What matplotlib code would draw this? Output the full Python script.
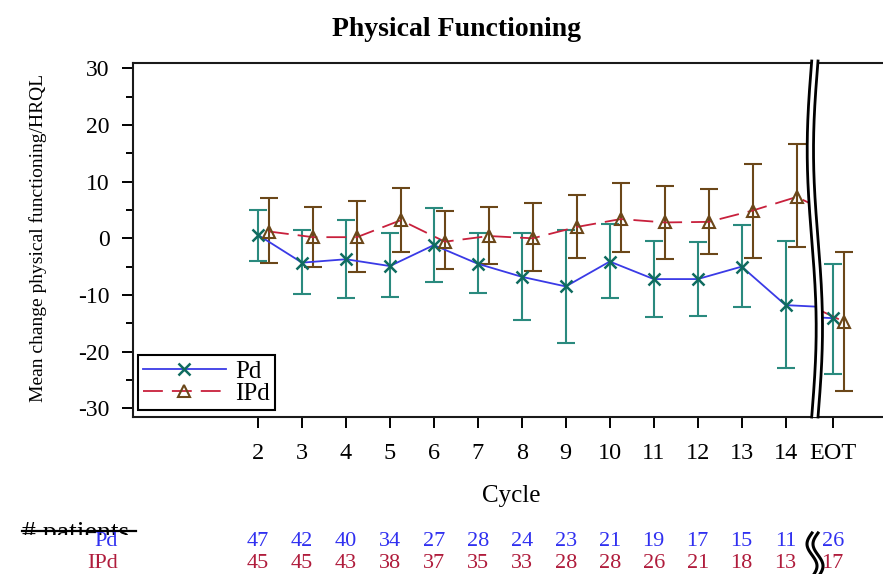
import matplotlib
matplotlib.use("Agg")
import matplotlib.pyplot as plt
import numpy as np
from matplotlib.lines import Line2D
from matplotlib.patches import Polygon
from matplotlib.ticker import MultipleLocator
from matplotlib.transforms import blended_transform_factory, Bbox

# ---- data -------------------------------------------------------------
cycles = ["2", "3", "4", "5", "6", "7", "8", "9", "10", "11", "12", "13", "14", "EOT"]

pd_mean = [0.6, -4.3, -3.7, -4.9, -1.2, -4.5, -6.8, -8.5, -4.1, -7.2, -7.2, -5.0, -11.8, -14.1]
pd_upper = [5.0, 1.5, 3.2, 0.9, 5.4, 1.0, 1.0, 1.5, 2.6, -0.4, -0.7, 2.3, -0.4, -4.5]
pd_lower = [-4.0, -9.9, -10.6, -10.4, -7.7, -9.7, -14.5, -18.5, -10.5, -13.9, -13.7, -12.2, -22.9, -23.9]

ipd_mean = [1.2, 0.2, 0.2, 3.2, -0.6, 0.4, 0.0, 2.0, 3.4, 2.8, 2.9, 4.9, 7.3, -14.7]
ipd_upper = [7.1, 5.6, 6.5, 8.9, 4.9, 5.5, 6.2, 7.6, 9.7, 9.3, 8.7, 13.2, 16.6, -2.4]
ipd_lower = [-4.4, -5.0, -6.0, -2.5, -5.5, -4.5, -5.7, -3.4, -2.4, -3.6, -2.7, -3.4, -1.6, -27.0]

pd_n = [47, 42, 40, 34, 27, 28, 24, 23, 21, 19, 17, 15, 11, 26]
ipd_n = [45, 45, 43, 38, 37, 35, 33, 28, 28, 26, 21, 18, 13, 17]

# ---- style --------------------------------------------------------------
PD_LINE = "#3a3ae6"
PD_MARK = "#0f6b5f"
PD_ERR = "#2a8a7e"
IPD_LINE = "#c8203c"
IPD_MARK = "#6b4719"
PD_TXT = "#3030f0"
IPD_TXT = "#b01c3c"
IPD_DASH = (0, (11, 5))

plt.rcParams["font.family"] = ["Liberation Serif", "DejaVu Serif"]
plt.rcParams["axes.unicode_minus"] = False

W, H = 883, 574
fig = plt.figure(figsize=(W / 100, H / 100), dpi=100)


def fx(x):
    return x / W


def fy(y):
    return 1 - y / H


# layout in pixels
AX_L, AX_T, AX_B = 133, 63.3, 416.7
SPLIT = 815
AX_R = 905
UNIT = 43.97          # pixels per cycle
X2_PX = 258           # pixel position of cycle 2
EOT_PX = 832.7
EOT_POS = 20.0        # EOT sits past the axis break on the continuous scale
IPD_SHIFT = 0.25      # side-by-side offset of the IPd series

pos = np.array(list(range(2, 15)) + [EOT_POS], dtype=float)

ax1 = fig.add_axes([fx(AX_L), fy(AX_B), (SPLIT - AX_L) / W, (AX_B - AX_T) / H])
ax2 = fig.add_axes([fx(SPLIT), fy(AX_B), (AX_R - SPLIT) / W, (AX_B - AX_T) / H])

ax1.set_xlim(2 - (X2_PX - AX_L) / UNIT, 2 + (SPLIT - X2_PX) / UNIT)
ax2.set_xlim(EOT_POS - (EOT_PX - SPLIT) / UNIT, EOT_POS + (AX_R - EOT_PX) / UNIT)

YLIM = (-31.5, 30.9)


def draw_series(ax):
    m = np.array(pd_mean)
    ax.errorbar(pos, m, yerr=[m - np.array(pd_lower), np.array(pd_upper) - m],
                fmt="none", ecolor=PD_ERR, elinewidth=1.5, capsize=6.5, capthick=1.5, zorder=2)
    mi = np.array(ipd_mean)
    ax.errorbar(pos + IPD_SHIFT, mi, yerr=[mi - np.array(ipd_lower), np.array(ipd_upper) - mi],
                fmt="none", ecolor=IPD_MARK, elinewidth=1.5, capsize=6.5, capthick=1.5, zorder=2)
    ax.plot(pos, m, color=PD_LINE, lw=1.3, zorder=3)
    ax.plot(pos + IPD_SHIFT, mi, color=IPD_LINE, lw=1.3, ls=IPD_DASH, zorder=3)
    ax.plot(pos, m, ls="none", marker="x", ms=9, mew=1.8, color=PD_MARK, zorder=4)
    ax.plot(pos + IPD_SHIFT, mi, ls="none", marker="^", ms=9, mew=1.5,
            mfc="none", mec=IPD_MARK, zorder=4)
    ax.set_ylim(*YLIM)
    for s in ax.spines.values():
        s.set_linewidth(1.5)
        s.set_color("#1a1a1a")
    ax.tick_params(axis="x", direction="out", length=8, width=1.4, pad=11, labelsize=17.5)


draw_series(ax1)
draw_series(ax2)

ax1.set_xticks(pos[:-1])
ax1.set_xticklabels(cycles[:-1])
ax1.set_yticks(range(-30, 31, 10))
ax1.yaxis.set_minor_locator(MultipleLocator(5))
ax1.tick_params(axis="y", which="major", direction="out", length=8, width=1.4, pad=9, labelsize=17)
ax1.tick_params(axis="y", which="minor", direction="out", length=5, width=1.4)
ax1.spines["right"].set_visible(False)

ax2.set_xticks([EOT_POS])
ax2.set_xticklabels([cycles[-1]])
ax2.set_yticks([])
ax2.spines["left"].set_visible(False)
ax2.spines["right"].set_visible(False)

# legend
handles = [
    Line2D([], [], color=PD_LINE, lw=1.3, marker="x", ms=9, mew=1.8, mec=PD_MARK),
    Line2D([], [], color=IPD_LINE, lw=1.3, ls=IPD_DASH, marker="^", ms=9, mew=1.5,
           mfc="none", mec=IPD_MARK),
]
leg = ax1.legend(handles, ["Pd", "IPd"], loc="lower left",
                 bbox_to_anchor=(fx(138), fy(410)), bbox_transform=fig.transFigure,
                 borderaxespad=0, frameon=True, fancybox=False, edgecolor="black",
                 framealpha=1, fontsize=18, handlelength=3.3, handletextpad=0.4,
                 borderpad=0.2, labelspacing=0.0)
leg.get_frame().set_linewidth(1.5)

# axis break: white band bounded by two wavy lines
yy = np.linspace(61, 417, 200)
wave = -4.5 * np.sin(2 * np.pi * (yy - 61) / (417 - 61))
xa = 811.7 + wave
xb = 818.0 + wave
band = Polygon(np.column_stack([np.concatenate([fx(xa), fx(xb[::-1])]),
                                np.concatenate([fy(yy), fy(yy[::-1])])]),
               closed=True, transform=fig.transFigure, facecolor="white",
               edgecolor="none", zorder=5)
fig.add_artist(band)
for xc in (xa, xb):
    fig.add_artist(Line2D(fx(xc), fy(yy), transform=fig.transFigure,
                          color="black", lw=2.0, zorder=6))

# titles and axis labels
fig.text(fx(456), fy(30), "Physical Functioning", fontsize=20, fontweight="bold",
         ha="center", va="center")
fig.text(fx(511), fy(496), "Cycle", fontsize=18, ha="center", va="center")
fig.text(fx(38), fy(238), "Mean change physical functioning/HRQL", fontsize=14,
         rotation=90, ha="center", va="center")

# patients-at-risk table
hdr = fig.text(fx(22), fy(539.5), "# patients", fontsize=20, ha="left", va="baseline")
hdr.set_clip_box(Bbox([[0, fy(535) * H], [W, H]]))
hdr.set_clip_on(True)
fig.add_artist(Line2D([fx(22), fx(136)], [fy(531), fy(531)], transform=fig.transFigure,
                      color="black", lw=1.6))
fig.text(fx(118), fy(541), "Pd", fontsize=16, ha="right", va="center", color=PD_TXT)
fig.text(fx(118), fy(564), "IPd", fontsize=16, ha="right", va="center", color=IPD_TXT)

tr1 = blended_transform_factory(ax1.transData, fig.transFigure)
tr2 = blended_transform_factory(ax2.transData, fig.transFigure)
for i, (p, a, b) in enumerate(zip(pos, pd_n, ipd_n)):
    tr = tr2 if i == len(pos) - 1 else tr1
    fig.text(p, fy(541), str(a), transform=tr, fontsize=16, ha="center", va="center",
             color=PD_TXT)
    fig.text(p, fy(564), str(b), transform=tr, fontsize=16, ha="center", va="center",
             color=IPD_TXT)

# break marker in the table
ty = np.linspace(533, 576, 80)
tw = 5 * np.sin(2 * np.pi * (ty - 533) / 44 + np.pi)
for off in (0, 6):
    fig.add_artist(Line2D(fx(812 + off + tw), fy(ty), transform=fig.transFigure,
                          color="black", lw=2.2))

fig.savefig("out.png", dpi=100)
